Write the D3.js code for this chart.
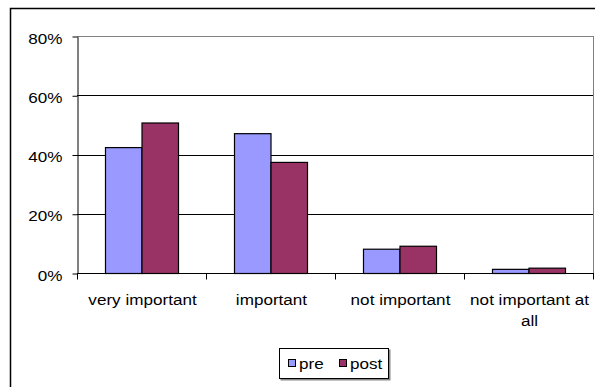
<!DOCTYPE html>
<html>
<head>
<meta charset="utf-8">
<script src="https://cdn.jsdelivr.net/npm/d3@7"></script>
<style>
  html, body { margin: 0; padding: 0; background: #fff; }
  svg { display: block; }
  text { font-family: "Liberation Sans", Arial, sans-serif; fill: #000; }
</style>
</head>
<body>
<script>
// Survey responses before and after, share of respondents per answer
const categories = ["very important", "important", "not important", "not important at all"];
const seriesNames = ["pre", "post"];
const preValues = [42.5, 47.2, 8.2, 1.4];
const postValues = [50.8, 37.5, 9.2, 1.8];
const yTicks = [0, 20, 40, 60, 80];
const seriesColors = ["#9999FF", "#993366"];

const W = 595, H = 387;
const plot = { left: 77, right: 593, top: 36, bottom: 273 };
const stretch = 1.14; // horizontal widening of the typeface
const fontSize = 15;

const svg = d3.select("body").append("svg").attr("width", W).attr("height", H);

// outer chart frame (extends past the right and bottom edges)
svg.append("path")
  .attr("d", `M10.5,${H + 2} V8.5 H${W + 2}`)
  .attr("fill", "none").attr("stroke", "#000").attr("stroke-width", 1.5);

const x = d3.scaleBand().domain(categories).range([plot.left, plot.right]).paddingInner(0).paddingOuter(0);
const xInner = d3.scaleBand().domain(seriesNames).range([0, x.bandwidth()]).paddingInner(0).paddingOuter(0.767);
const y = d3.scaleLinear().domain([0, 80]).range([plot.bottom, plot.top]);

// gridlines
svg.append("g").selectAll("line").data(yTicks.filter(t => t > 0)).join("line")
  .attr("x1", plot.left).attr("x2", plot.right)
  .attr("y1", d => Math.round(y(d)) + 0.5).attr("y2", d => Math.round(y(d)) + 0.5)
  .attr("stroke", d => d === 80 ? "#808080" : "#000").attr("stroke-width", 1);

// plot area right border
svg.append("line")
  .attr("x1", plot.right + 0.5).attr("x2", plot.right + 0.5)
  .attr("y1", plot.top).attr("y2", plot.bottom)
  .attr("stroke", "#808080");

// bars
const rows = categories.map((c, i) => ({ cat: c, vals: [preValues[i], postValues[i]] }));
const groups = svg.append("g").selectAll("g").data(rows).join("g")
  .attr("transform", d => `translate(${x(d.cat)},0)`);
groups.selectAll("rect").data(d => d.vals.map((v, j) => ({ key: seriesNames[j], v, j }))).join("rect")
  .attr("x", d => xInner(d.key) + 0.5)
  .attr("y", d => y(d.v) + 0.5)
  .attr("width", xInner.bandwidth())
  .attr("height", d => y(0) - y(d.v))
  .attr("fill", d => seriesColors[d.j])
  .attr("stroke", "#000").attr("stroke-width", 1.2);

// y axis
const yAxis = svg.append("g")
  .attr("transform", `translate(${plot.left + 0.5},0.5)`)
  .call(d3.axisLeft(y).tickValues(yTicks).tickFormat(d => d + "%").tickSize(5).tickSizeOuter(0));
yAxis.select(".domain").attr("stroke", "#000");
yAxis.selectAll(".tick line").attr("stroke", "#000");
yAxis.selectAll(".tick text")
  .attr("x", null).attr("dy", null)
  .attr("dominant-baseline", "central")
  .attr("transform", `translate(-15,1) scale(${stretch},1)`)
  .style("font-size", fontSize + "px")
  .style("font-family", "'Liberation Sans', Arial, sans-serif");

// x axis baseline and category dividers
const xAxis = svg.append("g").attr("transform", `translate(0,${plot.bottom + 0.5})`);
xAxis.append("line").attr("x1", plot.left).attr("x2", plot.right + 1).attr("stroke", "#000");
const bounds = categories.map(c => x(c)).concat([plot.right]);
xAxis.selectAll("line.tk").data(bounds).join("line").attr("class", "tk")
  .attr("x1", d => Math.round(d) + 0.5).attr("x2", d => Math.round(d) + 0.5)
  .attr("y1", 0).attr("y2", 6).attr("stroke", "#000");

// category labels, wrapped to fit each band
const wrapLines = { "not important at all": ["not important at", "all"] };
const labels = svg.append("g").selectAll("text").data(categories).join("text")
  .attr("text-anchor", "middle")
  .style("font-size", fontSize + "px")
  .attr("transform", d => `translate(${x(d) + x.bandwidth() / 2 + 1},305) scale(${stretch},1)`);
labels.each(function(d) {
  const lines = wrapLines[d] || [d];
  d3.select(this).selectAll("tspan").data(lines).join("tspan")
    .attr("x", 0).attr("y", (l, i) => i * 21).text(l => l);
});

// legend
const lg = svg.append("g").attr("transform", "translate(279,348)");
lg.append("rect").attr("x", 1.5).attr("y", 1.5).attr("width", 110).attr("height", 31).attr("fill", "#888");
lg.append("rect").attr("x", 0.5).attr("y", 0.5).attr("width", 109).attr("height", 30)
  .attr("fill", "#fff").attr("stroke", "#000");
const legendX = [9, 60];
const items = lg.selectAll("g.item").data(seriesNames).join("g").attr("class", "item")
  .attr("transform", (d, i) => `translate(${legendX[i]},0)`);
items.append("rect").attr("x", 0.5).attr("y", 11.5).attr("width", 7).attr("height", 7)
  .attr("fill", (d, i) => seriesColors[i]).attr("stroke", "#000");
items.append("text")
  .attr("transform", `translate(11,21) scale(${stretch},1)`)
  .style("font-size", fontSize + "px")
  .text(d => d);
</script>
</body>
</html>
